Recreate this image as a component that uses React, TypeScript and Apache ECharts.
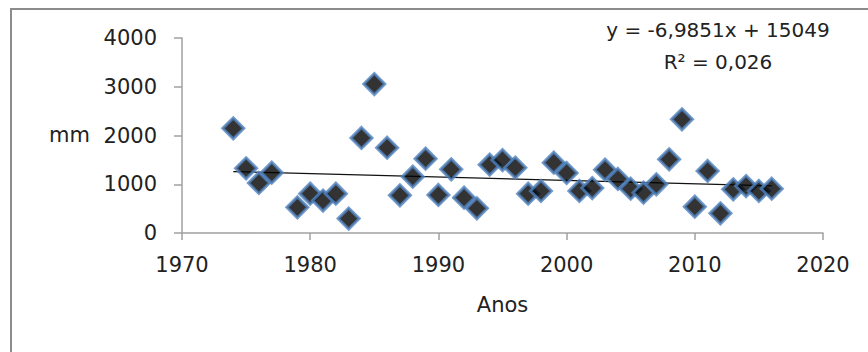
import React, { useEffect, useRef } from "react";
import * as echarts from "echarts";

const years = [1974, 1975, 1976, 1977, 1979, 1980, 1981, 1982, 1983, 1984, 1985, 1986, 1987, 1988, 1989, 1990, 1991, 1992, 1993, 1994, 1995, 1996, 1997, 1998, 1999, 2000, 2001, 2002, 2003, 2004, 2005, 2006, 2007, 2008, 2009, 2010, 2011, 2012, 2013, 2014, 2015, 2016];
const rainfall = [2147, 1327, 1026, 1238, 526, 807, 665, 807, 295, 1949, 3056, 1750, 773, 1156, 1525, 780, 1306, 725, 506, 1402, 1497, 1340, 807, 862, 1443, 1231, 862, 923, 1299, 1108, 909, 827, 998, 1511, 2332, 540, 1272, 403, 896, 964, 862, 909];

const trendSlope = -6.9851;
const trendIntercept = 15049;
const equationText = "y = -6,9851x + 15049";
const r2Text = "R² = 0,026";

const xTicks = { min: 1970, max: 2020, interval: 10 };
const yTicks = { min: 0, max: 4000, interval: 1000 };

const FONT = "DejaVu Sans";

export default function App() {
  const ref = useRef<HTMLDivElement>(null);
  useEffect(() => {
    if (!ref.current) return;
    const chart = echarts.init(ref.current, null, { renderer: "svg" });
    const x0 = years[0];
    const x1 = years[years.length - 1];
    const trend = [
      [x0, trendSlope * x0 + trendIntercept],
      [x1, trendSlope * x1 + trendIntercept],
    ];
    const axisLineColor = "#a0a0a0";
    const plain = (v: number) => String(v);
    chart.setOption({
      animation: false,
      backgroundColor: "#ffffff",
      grid: { left: 182, right: 45, top: 38, bottom: 119, containLabel: false },
      xAxis: {
        type: "value",
        min: xTicks.min,
        max: xTicks.max,
        interval: xTicks.interval,
        name: "Anos",
        nameLocation: "middle",
        nameGap: 61,
        nameTextStyle: { fontFamily: FONT, fontSize: 21, color: "#222" },
        axisLine: { show: true, lineStyle: { color: axisLineColor, width: 1.5 } },
        axisTick: { show: true, inside: false, length: 7, lineStyle: { color: axisLineColor, width: 1.5 } },
        axisLabel: { fontFamily: FONT, fontSize: 21, color: "#222", margin: 21, formatter: plain },
        splitLine: { show: false },
      },
      yAxis: {
        type: "value",
        min: yTicks.min,
        max: yTicks.max,
        interval: yTicks.interval,
        axisLine: { show: true, lineStyle: { color: axisLineColor, width: 1.5 } },
        axisTick: { show: true, inside: false, length: 8, lineStyle: { color: axisLineColor, width: 1.5 } },
        axisLabel: { fontFamily: FONT, fontSize: 21, color: "#222", margin: 25, formatter: plain },
        splitLine: { show: false },
      },
      graphic: [
        {
          type: "rect",
          shape: { x: 11, y: 9, width: 900, height: 400 },
          style: { fill: "none", stroke: "#8c8c8c", lineWidth: 2 },
          silent: true,
          z: -10,
        },
        {
          type: "text",
          x: 90,
          y: 135,
          style: { text: "mm", fontFamily: FONT, fontSize: 21, fill: "#222", align: "right", verticalAlign: "middle" },
        },
        {
          type: "text",
          x: 718,
          y: 30,
          style: { text: equationText, fontFamily: FONT, fontSize: 20, fill: "#222", align: "center", verticalAlign: "middle" },
        },
        {
          type: "text",
          x: 718,
          y: 62,
          style: { text: r2Text, fontFamily: FONT, fontSize: 20, fill: "#222", align: "center", verticalAlign: "middle" },
        },
      ],
      series: [
        {
          type: "line",
          data: trend,
          symbol: "none",
          lineStyle: { color: "#111", width: 1.3 },
          z: 1,
          silent: true,
        },
        {
          type: "scatter",
          data: years.map((y, i) => [y, rainfall[i]]),
          symbol: "diamond",
          symbolSize: 21,
          itemStyle: { color: "#000", borderColor: "#4f81bd", borderWidth: 3 },
          z: 2,
        },
      ],
    });
    return () => chart.dispose();
  }, []);
  return (
    <div
      ref={ref}
      style={{ position: "fixed", left: 0, top: 0, width: 868, height: 352 }}
    />
  );
}
